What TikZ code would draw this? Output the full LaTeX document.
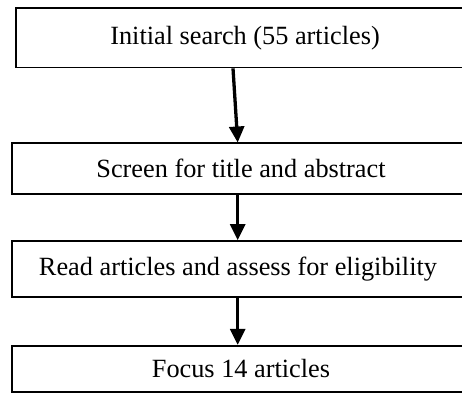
\documentclass[tikz,border=0pt]{standalone}
\usepackage{fontspec}
\setmainfont{Liberation Serif}
\usetikzlibrary{arrows.meta}
\usetikzlibrary{calc}

\tikzset{
  stagebox/.style = {draw, line width = 0.75pt, inner sep = 0pt,
    font = \fontsize{12}{14}\selectfont},
  flow/.style = {line width = 1.5pt, -{Triangle[width = 6.8pt, length = 7.3pt]}}
}

\begin{document}
\begin{tikzpicture}[x = 0.4563pt, y = -0.4563pt]
  \useasboundingbox (0, 0) rectangle (462, 393);
  \clip (0, 0) rectangle (462, 393);

  \node[stagebox, minimum width = 209pt, minimum height = 27.15pt]
  (search) at (245, 37.75) {Initial search (55 articles)};
  \node[stagebox, minimum width = 209pt, minimum height = 23.13pt]
  (screen) at (241, 168.65) {Screen for title and abstract};
  \node[stagebox, minimum width = 206.2pt, minimum height = 25.42pt]
  (read) at (238, 268.85) {Read articles and assess for eligibility};
  \node[stagebox, minimum width = 209pt, minimum height = 20.99pt]
  (focus) at (241, 368.7) {Focus 14 articles};

  % the arrows run down one column
  \coordinate (col) at (237.7, 0);
  \draw[flow] ($(search.south -| col) + (-4.7, 0)$) -- (screen.north -| col);
  \draw[flow] (screen.south -| col) -- (read.north -| col);
  \draw[flow] (read.south -| col) -- (focus.north -| col);
\end{tikzpicture}
\end{document}
